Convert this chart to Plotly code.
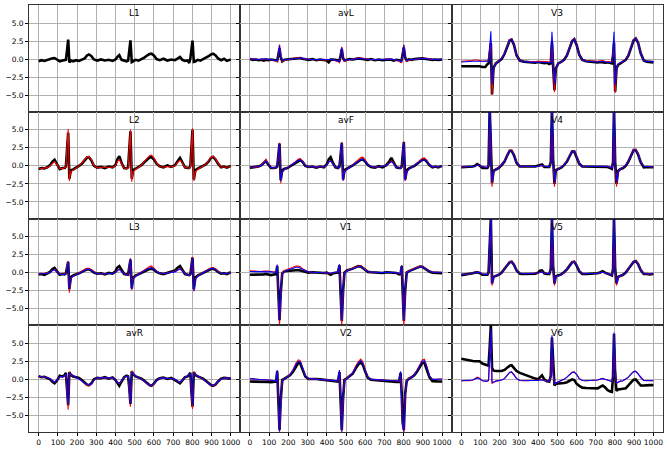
import plotly.graph_objects as go
from plotly.subplots import make_subplots

# shared sample positions (breakpoints)
X = [0, 15, 30, 45, 60, 72, 83, 95, 110, 125,
     136, 142, 148, 154, 160, 168, 180, 195, 210, 225,
     240, 252, 262, 274, 288, 305, 325, 345, 365, 385,
     400, 410, 420, 432, 445, 458, 466, 472, 478, 485,
     492, 505, 520, 535, 550, 565, 577, 588, 600, 614,
     630, 650, 670, 690, 710, 725, 736, 748, 762, 776,
     784, 790, 795, 801, 808, 816, 828, 842, 856, 870,
     885, 897, 908, 920, 934, 950, 965, 980, 1000]

X_TICKS = [0, 100, 200, 300, 400, 500, 600, 700, 800, 900, 1000]
Y_TICKS = [-5, -2.5, 0, 2.5, 5]
Y_TICK_TEXT = ["\u22125.0", "\u22122.5", "0.0", "2.5", "5.0"]

# ---------------- L1 ----------------
L1_black = [-0.3, -0.15, -0.25, -0.1, -0.05, 0.1, 0.15, -0.05, -0.3, -0.2,
            -0.2, -0.1, 1.2, 2.7, -0.45, -0.2, -0.3, -0.15, -0.25, -0.1,
            0.1, 0.5, 0.65, 0.45, -0.05, -0.2, -0.05, -0.2, -0.1, -0.25,
            -0.05, 0.3, 0.55, -0.1, -0.15, -0.3, -0.2, 0.9, 2.6, -0.4,
            -0.3, -0.1, -0.2, -0.05, 0.2, 0.5, 0.7, 0.75, 0.5, 0.0,
            -0.15, 0.05, -0.2, -0.05, -0.15, 0.1, 0.3, -0.1, -0.25, -0.2,
            -0.55, 0.1, 1.3, 2.55, -0.4, -0.35, -0.1, -0.2, 0.0, 0.15,
            0.4, 0.65, 0.75, 0.55, 0.1, -0.15, 0.05, -0.25, -0.05]

# ---------------- L2 ----------------
L2_black = [-0.45, -0.3, -0.35, -0.2, 0.1, 0.6, 0.85, 0.3, -0.45, -0.3,
            -0.3, -0.1, 2.5, 4.6, -1.8, -0.6, -0.5, -0.3, 0.0, 0.3,
            0.8, 1.15, 1.2, 0.8, 0.0, -0.25, -0.15, -0.3, -0.1, -0.2,
            0.1, 0.9, 1.35, 0.4, -0.3, -0.35, -0.2, 2.0, 4.8, -1.8,
            -0.6, -0.4, -0.2, 0.1, 0.5, 0.9, 1.15, 1.2, 0.9, 0.3,
            -0.05, -0.2, 0.05, -0.15, 0.1, 0.7, 1.1, 0.5, -0.2, -0.3,
            -0.3, 0.0, 2.5, 5.0, -1.9, -0.6, -0.4, -0.2, 0.0, 0.2,
            0.6, 1.1, 1.25, 0.9, 0.3, -0.2, -0.1, -0.25, 0.0]
L2_red = [-0.4, -0.35, -0.3, -0.25, 0.0, 0.4, 0.6, 0.2, -0.4, -0.35,
          -0.3, -0.2, 2.8, 5.1, -2.1, -0.8, -0.6, -0.35, 0.0, 0.4,
          0.9, 1.25, 1.3, 0.9, 0.05, -0.3, -0.2, -0.25, -0.2, -0.2,
          0.0, 0.6, 0.9, 0.3, -0.3, -0.35, -0.3, 2.5, 5.0, -2.2,
          -0.8, -0.5, -0.25, 0.1, 0.6, 1.1, 1.4, 1.5, 1.1, 0.4,
          -0.1, -0.2, -0.1, -0.15, 0.0, 0.5, 0.8, 0.4, -0.2, -0.3,
          -0.35, -0.1, 2.8, 5.2, -2.1, -0.8, -0.5, -0.25, -0.05, 0.2,
          0.7, 1.2, 1.35, 1.0, 0.35, -0.15, -0.15, -0.2, -0.05]

# ---------------- L3 ----------------
L3_black = [-0.25, -0.2, -0.3, -0.15, 0.1, 0.5, 0.65, 0.2, -0.3, -0.2,
            -0.25, -0.1, 0.8, 1.5, -2.3, -0.6, -0.4, -0.3, -0.1, 0.1,
            0.3, 0.45, 0.45, 0.3, 0.0, -0.15, -0.1, -0.25, -0.05, -0.15,
            0.2, 0.7, 0.9, 0.3, -0.2, -0.25, -0.3, 0.8, 1.8, -2.2,
            -0.7, -0.4, -0.2, 0.0, 0.2, 0.4, 0.5, 0.55, 0.4, 0.1,
            -0.1, -0.2, 0.0, 0.1, 0.3, 0.7, 0.9, 0.4, -0.2, -0.3,
            -0.35, -0.2, 1.0, 2.1, -2.3, -0.7, -0.4, -0.2, 0.0, 0.2,
            0.4, 0.5, 0.55, 0.4, 0.1, -0.15, -0.1, -0.2, 0.05]
L3_red = [-0.2, -0.15, -0.2, -0.15, 0.0, 0.3, 0.45, 0.15, -0.25, -0.2,
          -0.25, -0.2, 0.9, 1.6, -2.8, -0.8, -0.5, -0.3, -0.05, 0.2,
          0.45, 0.6, 0.6, 0.4, 0.05, -0.15, -0.15, -0.2, -0.1, -0.15,
          0.0, 0.35, 0.5, 0.2, -0.2, -0.25, -0.35, 1.0, 2.0, -2.4,
          -0.8, -0.45, -0.2, 0.1, 0.35, 0.65, 0.85, 0.9, 0.65, 0.2,
          -0.05, -0.15, -0.05, 0.0, 0.15, 0.4, 0.55, 0.3, -0.15, -0.3,
          -0.4, -0.25, 1.1, 2.2, -2.6, -0.85, -0.45, -0.2, 0.0, 0.25,
          0.5, 0.65, 0.7, 0.5, 0.15, -0.1, -0.1, -0.15, 0.0]
L3_blue = [-0.2, -0.2, -0.2, -0.1, 0.0, 0.3, 0.4, 0.1, -0.25, -0.25,
           -0.3, -0.2, 0.8, 1.5, -2.3, -0.8, -0.5, -0.3, -0.05, 0.15,
           0.35, 0.45, 0.45, 0.35, 0.05, -0.15, -0.15, -0.2, -0.1, -0.15,
           0.0, 0.3, 0.45, 0.15, -0.2, -0.3, -0.35, 0.9, 1.9, -2.3,
           -0.9, -0.5, -0.25, 0.05, 0.3, 0.5, 0.6, 0.65, 0.5, 0.15,
           -0.05, -0.15, -0.05, 0.0, 0.1, 0.35, 0.5, 0.25, -0.15, -0.3,
           -0.4, -0.3, 1.0, 2.0, -2.5, -0.9, -0.5, -0.25, 0.0, 0.2,
           0.4, 0.55, 0.6, 0.45, 0.1, -0.1, -0.1, -0.15, 0.0]

# ---------------- avR ----------------
avR_black = [0.45, 0.3, 0.35, 0.2, 0.0, -0.35, -0.55, -0.2, 0.5, 0.4,
             0.6, 0.9, -1.5, -3.6, 1.0, 0.6, 0.4, 0.3, 0.2, -0.1,
             -0.5, -0.75, -0.8, -0.6, 0.0, 0.2, 0.15, 0.3, 0.1, 0.25,
             -0.1, -0.6, -0.9, -0.3, 0.3, 0.5, 0.4, -1.2, -3.4, 1.1,
             0.7, 0.4, 0.3, 0.1, -0.2, -0.55, -0.8, -0.9, -0.6, -0.1,
             0.15, 0.25, 0.05, 0.2, -0.05, -0.35, -0.55, -0.1, 0.3, 0.4,
             0.7, 0.9, -1.5, -3.8, 1.0, 0.6, 0.4, 0.3, 0.1, -0.2,
             -0.55, -0.8, -0.9, -0.75, -0.3, 0.1, 0.2, 0.15, 0.1]
avR_red = [0.4, 0.35, 0.3, 0.25, 0.05, -0.25, -0.4, -0.1, 0.4, 0.35,
           0.5, 0.7, -1.8, -4.2, 1.0, 0.7, 0.5, 0.3, 0.1, -0.2,
           -0.6, -0.85, -0.9, -0.7, -0.1, 0.2, 0.2, 0.25, 0.15, 0.2,
           0.0, -0.4, -0.6, -0.2, 0.3, 0.45, 0.4, -1.5, -3.8, 1.2,
           0.8, 0.45, 0.25, 0.05, -0.3, -0.6, -0.85, -0.9, -0.65, -0.15,
           0.1, 0.2, 0.1, 0.15, 0.0, -0.25, -0.4, -0.1, 0.3, 0.45,
           0.7, 0.8, -1.8, -4.1, 1.05, 0.7, 0.45, 0.3, 0.05, -0.25,
           -0.6, -0.85, -0.9, -0.75, -0.3, 0.05, 0.15, 0.2, 0.1]
avR_blue = [0.4, 0.35, 0.3, 0.25, 0.05, -0.25, -0.4, -0.1, 0.4, 0.35,
            0.5, 0.7, -1.4, -3.5, 0.9, 0.7, 0.5, 0.3, 0.1, -0.2,
            -0.55, -0.75, -0.8, -0.65, -0.1, 0.2, 0.2, 0.25, 0.15, 0.2,
            0.0, -0.4, -0.55, -0.2, 0.3, 0.45, 0.4, -1.2, -3.4, 1.0,
            0.8, 0.45, 0.25, 0.05, -0.25, -0.55, -0.8, -0.85, -0.6, -0.15,
            0.1, 0.2, 0.1, 0.15, 0.0, -0.25, -0.4, -0.1, 0.3, 0.45,
            0.7, 0.8, -1.4, -3.6, 0.9, 0.7, 0.45, 0.3, 0.05, -0.25,
            -0.55, -0.8, -0.85, -0.7, -0.3, 0.05, 0.15, 0.2, 0.1]

# ---------------- avL ----------------
avL_black = [0.0, -0.1, -0.05, -0.15, -0.1, -0.2, -0.1, -0.15, -0.05, -0.1,
             -0.1, -0.2, 0.6, 1.5, 0.3, -0.3, -0.1, -0.05, 0.0, 0.05,
             0.1, 0.15, 0.15, 0.05, -0.05, -0.1, 0.0, -0.15, -0.05, -0.1,
             -0.2, -0.45, -0.1, -0.05, -0.1, -0.15, -0.2, 0.5, 1.4, 0.1,
             -0.2, -0.1, 0.0, -0.05, 0.05, 0.1, 0.05, 0.0, -0.05, -0.1,
             0.0, -0.15, -0.05, -0.15, -0.1, -0.05, -0.1, -0.2, -0.1, -0.15,
             -0.3, -0.1, 0.8, 1.6, 0.2, -0.2, -0.05, -0.1, 0.0, 0.05,
             0.05, 0.1, 0.05, 0.0, -0.05, -0.1, -0.05, -0.1, -0.05]
avL_red = [0.05, 0.0, -0.05, -0.1, -0.05, 0.0, 0.05, -0.05, -0.1, -0.15,
           -0.3, -0.4, 0.7, 2.0, 0.5, -0.3, -0.15, -0.1, 0.0, 0.1,
           0.15, 0.2, 0.2, 0.1, 0.0, -0.05, -0.05, -0.1, -0.05, -0.1,
           -0.15, -0.05, 0.0, -0.1, -0.2, -0.35, -0.5, 0.5, 1.7, 0.3,
           -0.3, -0.15, -0.05, 0.0, 0.1, 0.15, 0.15, 0.1, 0.0, -0.05,
           -0.05, -0.1, -0.05, -0.1, -0.05, 0.0, 0.0, -0.05, -0.15, -0.3,
           -0.45, -0.5, 0.8, 2.0, 0.4, -0.3, -0.15, -0.1, 0.0, 0.1,
           0.15, 0.15, 0.15, 0.1, 0.0, -0.05, -0.05, -0.05, 0.0]
avL_blue = [0.05, 0.0, 0.0, -0.05, 0.0, 0.05, 0.05, 0.0, -0.05, -0.1,
            -0.2, -0.25, 0.7, 1.9, 0.4, -0.2, -0.1, -0.05, 0.0, 0.05,
            0.1, 0.15, 0.15, 0.1, 0.0, -0.05, -0.05, -0.1, -0.05, -0.05,
            -0.1, -0.05, 0.0, -0.05, -0.15, -0.25, -0.35, 0.5, 1.6, 0.3,
            -0.2, -0.1, -0.05, 0.0, 0.05, 0.1, 0.1, 0.05, 0.0, -0.05,
            -0.05, -0.1, -0.05, -0.1, -0.05, 0.0, 0.0, -0.05, -0.1, -0.2,
            -0.3, -0.35, 0.8, 1.9, 0.4, -0.2, -0.1, -0.05, 0.0, 0.05,
            0.1, 0.1, 0.1, 0.05, 0.0, -0.05, -0.05, -0.05, 0.0]

# ---------------- avF ----------------
avF_black = [-0.25, -0.2, -0.25, -0.1, 0.1, 0.5, 0.7, 0.2, -0.3, -0.3,
             -0.25, -0.1, 1.5, 3.1, -2.0, -0.6, -0.4, -0.3, -0.05, 0.2,
             0.55, 0.75, 0.8, 0.55, 0.0, -0.15, -0.1, -0.25, -0.1, -0.2,
             0.2, 0.9, 1.2, 0.4, -0.2, -0.3, -0.1, 1.5, 3.2, -1.9,
             -0.6, -0.4, -0.2, 0.05, 0.35, 0.7, 0.85, 0.9, 0.6, 0.1,
             -0.15, -0.25, -0.05, -0.2, 0.1, 0.6, 1.1, 0.5, -0.2, -0.3,
             -0.3, -0.1, 1.6, 3.3, -1.9, -0.6, -0.35, -0.2, 0.0, 0.3,
             0.6, 0.85, 0.9, 0.6, 0.1, -0.2, -0.1, -0.2, 0.0]
avF_red = [-0.2, -0.2, -0.2, -0.15, 0.1, 0.6, 0.9, 0.3, -0.25, -0.3,
           -0.3, -0.2, 1.6, 3.2, -2.4, -0.8, -0.5, -0.3, 0.0, 0.3,
           0.7, 0.95, 1.0, 0.7, 0.05, -0.15, -0.1, -0.2, -0.1, -0.15,
           0.1, 0.55, 0.75, 0.3, -0.2, -0.3, -0.25, 1.6, 3.3, -2.1,
           -0.8, -0.45, -0.2, 0.1, 0.5, 0.9, 1.15, 1.2, 0.85, 0.2,
           -0.1, -0.2, -0.1, -0.1, 0.05, 0.4, 0.7, 0.35, -0.15, -0.3,
           -0.35, -0.2, 1.7, 3.4, -2.1, -0.8, -0.45, -0.2, 0.05, 0.35,
           0.75, 1.05, 1.1, 0.8, 0.2, -0.15, -0.1, -0.15, 0.0]
avF_blue = [-0.2, -0.2, -0.2, -0.1, 0.05, 0.45, 0.7, 0.25, -0.25, -0.3,
            -0.3, -0.2, 1.5, 3.1, -2.1, -0.9, -0.5, -0.3, 0.0, 0.25,
            0.6, 0.8, 0.8, 0.6, 0.05, -0.15, -0.1, -0.2, -0.1, -0.15,
            0.1, 0.5, 0.7, 0.25, -0.2, -0.3, -0.25, 1.5, 3.2, -2.0,
            -0.9, -0.5, -0.25, 0.05, 0.4, 0.7, 0.85, 0.9, 0.65, 0.15,
            -0.1, -0.2, -0.1, -0.1, 0.05, 0.35, 0.6, 0.3, -0.15, -0.3,
            -0.35, -0.2, 1.6, 3.3, -2.0, -0.9, -0.45, -0.2, 0.05, 0.3,
            0.6, 0.8, 0.85, 0.65, 0.15, -0.15, -0.1, -0.15, 0.0]

# ---------------- V1 ----------------
V1_black = [-0.3, -0.3, -0.25, -0.35, -0.3, -0.25, -0.2, -0.3, -0.35, -0.25,
            -0.2, 0.9, -3.5, -6.6, -3.0, -0.1, 0.2, 0.25, 0.3, 0.35,
            0.35, 0.35, 0.3, 0.2, 0.1, 0.0, 0.05, 0.0, 0.05, -0.05,
            0.0, -0.2, -0.3, -0.1, -0.05, 0.0, 1.0, -3.0, -6.7, -2.5,
            0.0, 0.3, 0.4, 0.55, 0.75, 0.9, 0.85, 0.6, 0.35, 0.1,
            0.05, 0.0, 0.05, -0.05, 0.05, 0.0, -0.05, 0.0, -0.05, -0.25,
            -0.2, 0.9, -3.0, -6.7, -2.5, 0.0, 0.2, 0.35, 0.5, 0.7,
            0.85, 0.8, 0.6, 0.35, 0.15, 0.0, -0.05, -0.1, -0.1]
V1_red = [0.25, 0.2, 0.25, 0.2, 0.15, 0.2, 0.25, 0.2, 0.15, 0.1,
          0.1, 1.0, -3.8, -7.4, -3.2, 0.0, 0.3, 0.45, 0.65, 0.85,
          0.9, 0.9, 0.8, 0.55, 0.3, 0.1, 0.05, 0.05, 0.0, 0.0,
          0.0, -0.05, -0.1, 0.0, 0.05, 0.1, 1.1, -3.2, -7.4, -2.8,
          0.0, 0.3, 0.45, 0.6, 0.8, 0.95, 1.0, 0.7, 0.4, 0.15,
          0.05, 0.05, 0.0, 0.0, 0.05, 0.05, 0.0, 0.05, 0.0, -0.1,
          -0.1, 1.0, -3.2, -7.4, -2.8, 0.0, 0.25, 0.4, 0.6, 0.8,
          0.9, 0.85, 0.65, 0.4, 0.2, 0.05, 0.05, 0.0, 0.05]
V1_blue = [0.15, 0.15, 0.2, 0.15, 0.1, 0.15, 0.2, 0.15, 0.1, 0.05,
           0.05, 1.1, -3.4, -6.6, -3.0, -0.2, 0.2, 0.35, 0.5, 0.65,
           0.75, 0.75, 0.65, 0.45, 0.25, 0.1, 0.05, 0.05, 0.0, 0.0,
           0.0, -0.05, -0.1, 0.0, 0.05, 0.1, 1.15, -3.0, -6.6, -2.7,
           -0.1, 0.25, 0.4, 0.55, 0.7, 0.85, 0.9, 0.65, 0.35, 0.15,
           0.05, 0.05, 0.0, 0.0, 0.05, 0.05, 0.0, 0.05, 0.0, -0.1,
           -0.1, 1.0, -3.0, -6.6, -2.7, -0.1, 0.2, 0.35, 0.55, 0.7,
           0.8, 0.8, 0.6, 0.4, 0.2, 0.05, 0.05, 0.05, 0.05]

# ---------------- V2 ----------------
V2_black = [-0.3, -0.3, -0.25, -0.3, -0.35, -0.3, -0.3, -0.35, -0.4, -0.4,
            -0.3, 1.1, -3.5, -7.0, -3.0, -0.1, 0.1, 0.3, 0.6, 1.1,
            1.8, 2.3, 2.2, 1.4, 0.4, 0.05, 0.1, 0.05, 0.0, -0.05,
            -0.1, -0.15, -0.15, -0.2, -0.25, -0.3, 1.0, -3.0, -7.0, -2.5,
            -0.05, 0.15, 0.45, 0.8, 1.5, 2.1, 2.35, 2.0, 1.1, 0.2,
            -0.05, -0.1, -0.2, -0.25, -0.3, -0.3, -0.35, -0.3, -0.35, -0.35,
            0.9, -2.0, -6.0, -7.0, -2.0, -0.2, 0.1, 0.3, 0.6, 1.1,
            1.8, 2.3, 2.3, 1.5, 0.3, -0.25, -0.3, -0.3, -0.3]
V2_red = [0.1, 0.05, 0.05, 0.0, 0.0, -0.05, -0.1, -0.1, -0.15, -0.2,
          -0.2, 1.2, -3.8, -7.4, -3.4, -0.2, 0.1, 0.35, 0.75, 1.4,
          2.3, 2.7, 2.6, 1.7, 0.5, 0.1, 0.05, 0.05, 0.0, -0.05,
          -0.05, -0.1, -0.1, -0.15, -0.2, -0.2, 1.2, -3.3, -7.4, -2.8,
          -0.1, 0.15, 0.5, 0.9, 1.8, 2.5, 2.8, 2.4, 1.3, 0.3,
          0.0, -0.05, -0.1, -0.15, -0.15, -0.2, -0.2, -0.2, -0.2, -0.25,
          1.0, -2.2, -6.3, -7.4, -2.3, -0.2, 0.15, 0.35, 0.7, 1.3,
          2.2, 2.7, 2.8, 1.9, 0.5, 0.0, 0.0, 0.05, 0.05]
V2_blue = [0.1, 0.05, 0.05, 0.05, 0.0, -0.05, -0.05, -0.1, -0.15, -0.2,
           -0.2, 1.3, -3.6, -7.2, -3.2, -0.3, 0.05, 0.3, 0.65, 1.25,
           2.1, 2.5, 2.4, 1.6, 0.5, 0.1, 0.05, 0.05, 0.0, -0.05,
           -0.05, -0.1, -0.1, -0.15, -0.2, -0.2, 1.3, -3.1, -7.2, -2.7,
           -0.2, 0.1, 0.45, 0.85, 1.65, 2.3, 2.6, 2.2, 1.2, 0.3,
           0.0, -0.05, -0.1, -0.15, -0.15, -0.2, -0.2, -0.2, -0.2, -0.25,
           1.1, -2.1, -6.1, -7.2, -2.2, -0.3, 0.1, 0.3, 0.65, 1.2,
           2.0, 2.5, 2.6, 1.8, 0.5, 0.0, 0.0, 0.05, 0.05]

# ---------------- V3 ----------------
V3_black = [-1.0, -1.0, -0.95, -1.0, -0.95, -0.9, -0.95, -1.0, -1.1, -1.1,
            -0.7, -0.6, 0.8, 2.2, -4.9, -1.2, -0.6, -0.35, 0.0, 0.7,
            1.8, 2.6, 2.7, 2.0, 0.5, -0.2, -0.35, -0.4, -0.45, -0.5,
            -0.4, -0.45, -0.5, -0.55, -0.5, -0.7, -0.6, 2.4, -1.0, -4.3,
            -1.3, -0.6, -0.4, -0.1, 0.5, 1.5, 2.5, 2.75, 2.0, 0.6,
            -0.1, -0.3, -0.35, -0.5, -0.45, -0.4, -0.45, -0.5, -0.45, -0.5,
            -0.6, 0.5, 2.3, -4.5, -1.3, -0.8, -0.6, -0.4, -0.1, 0.5,
            1.6, 2.6, 2.85, 2.3, 0.8, -0.2, -0.35, -0.4, -0.45]
V3_red = [-0.3, -0.3, -0.25, -0.3, -0.2, -0.1, -0.1, -0.2, -0.3, -0.3,
          -0.3, -0.2, 1.0, 2.6, -4.9, -1.3, -0.6, -0.3, 0.1, 0.8,
          1.9, 2.7, 2.8, 2.0, 0.5, -0.2, -0.3, -0.35, -0.35, -0.35,
          -0.3, -0.3, -0.25, -0.3, -0.35, -0.4, -0.4, 2.8, -0.8, -4.6,
          -1.3, -0.6, -0.4, -0.1, 0.5, 1.6, 2.6, 2.8, 2.0, 0.6,
          -0.1, -0.25, -0.3, -0.3, -0.3, -0.25, -0.2, -0.3, -0.35, -0.35,
          -0.4, 0.6, 2.6, -4.7, -1.4, -0.8, -0.5, -0.3, 0.0, 0.6,
          1.7, 2.7, 2.9, 2.3, 0.8, -0.15, -0.3, -0.3, -0.3]
V3_blue = [-0.4, -0.35, -0.3, -0.35, -0.3, -0.3, -0.3, -0.35, -0.4, -0.4,
           -0.4, -0.3, 1.5, 3.85, -3.5, -1.3, -0.7, -0.35, 0.05, 0.75,
           1.8, 2.6, 2.75, 2.0, 0.5, -0.2, -0.35, -0.4, -0.4, -0.45,
           -0.4, -0.4, -0.4, -0.45, -0.45, -0.5, -0.5, 3.8, -0.5, -3.5,
           -1.3, -0.6, -0.4, -0.1, 0.5, 1.5, 2.5, 2.75, 2.0, 0.6,
           -0.1, -0.3, -0.35, -0.4, -0.4, -0.35, -0.3, -0.4, -0.45, -0.45,
           -0.5, 1.0, 3.8, -3.6, -1.4, -0.8, -0.5, -0.35, -0.05, 0.55,
           1.65, 2.6, 2.85, 2.25, 0.8, -0.2, -0.35, -0.35, -0.35]

# ---------------- V4 ----------------
V4_black = [-0.2, -0.2, -0.15, -0.2, -0.1, 0.0, 0.25, 0.05, -0.3, -0.3,
            -0.3, 0.0, 8.0, 3.0, -2.4, -0.7, -0.5, -0.3, 0.1, 0.6,
            1.5, 2.1, 2.1, 1.5, 0.4, -0.1, -0.1, -0.15, -0.1, -0.1,
            0.0, 0.15, 0.2, -0.15, -0.2, -0.15, 0.5, 8.0, 1.0, -2.5,
            -0.6, -0.45, -0.25, 0.1, 0.6, 1.4, 2.0, 2.0, 1.3, 0.3,
            -0.1, -0.1, -0.15, -0.1, -0.15, -0.1, -0.05, -0.1, -0.15, -0.3,
            -0.4, 0.5, 8.0, 0.5, -2.5, -0.7, -0.45, -0.3, 0.0, 0.6,
            1.5, 2.2, 2.2, 1.6, 0.5, -0.2, -0.15, -0.2, -0.2]
V4_red = [-0.15, -0.15, -0.15, -0.15, -0.1, -0.05, 0.1, 0.0, -0.15, -0.2,
          -0.2, 0.0, 7.8, 3.0, -2.9, -0.8, -0.5, -0.25, 0.15, 0.7,
          1.6, 2.2, 2.2, 1.6, 0.45, -0.05, -0.05, -0.1, -0.1, -0.1,
          -0.05, 0.0, 0.05, -0.05, -0.1, -0.1, 0.5, 7.8, 1.0, -2.9,
          -0.7, -0.45, -0.2, 0.15, 0.7, 1.5, 2.1, 2.1, 1.4, 0.35,
          -0.05, -0.05, -0.1, -0.1, -0.1, -0.05, 0.0, -0.05, -0.1, -0.2,
          -0.3, 0.5, 7.8, 0.5, -2.9, -0.8, -0.45, -0.25, 0.05, 0.65,
          1.6, 2.3, 2.3, 1.7, 0.55, -0.1, -0.1, -0.15, -0.15]
V4_blue = [-0.15, -0.15, -0.15, -0.15, -0.1, -0.05, 0.1, 0.0, -0.15, -0.2,
           -0.2, 0.2, 8.5, 3.5, -2.3, -0.9, -0.5, -0.25, 0.1, 0.65,
           1.5, 2.1, 2.1, 1.5, 0.4, -0.05, -0.05, -0.1, -0.1, -0.1,
           -0.05, 0.0, 0.05, -0.05, -0.1, -0.1, 0.7, 8.5, 1.5, -2.3,
           -0.8, -0.45, -0.2, 0.1, 0.65, 1.45, 2.0, 2.0, 1.35, 0.35,
           -0.05, -0.05, -0.1, -0.1, -0.1, -0.05, 0.0, -0.05, -0.1, -0.2,
           -0.3, 0.7, 8.5, 1.0, -2.3, -0.9, -0.45, -0.25, 0.05, 0.6,
           1.5, 2.2, 2.2, 1.6, 0.5, -0.1, -0.1, -0.15, -0.15]

# ---------------- V5 ----------------
V5_black = [-0.35, -0.3, -0.3, -0.25, -0.1, 0.0, 0.05, -0.05, -0.3, -0.3,
            -0.3, 0.0, 4.0, 7.6, -1.5, -0.6, -0.45, -0.3, 0.0, 0.5,
            1.1, 1.45, 1.5, 1.1, 0.3, -0.15, -0.2, -0.15, -0.2, -0.15,
            0.0, 0.25, 0.3, -0.1, -0.2, -0.2, 0.5, 7.6, 1.0, -1.5,
            -0.5, -0.4, -0.25, 0.05, 0.45, 1.0, 1.45, 1.5, 1.0, 0.2,
            -0.2, -0.2, -0.15, -0.2, -0.1, 0.05, 0.2, 0.0, -0.2, -0.3,
            -0.4, 0.5, 7.6, 0.5, -1.5, -0.6, -0.45, -0.3, 0.0, 0.5,
            1.1, 1.5, 1.6, 1.2, 0.35, -0.2, -0.2, -0.25, -0.2]
V5_red = [-0.25, -0.25, -0.2, -0.2, -0.1, 0.05, 0.1, 0.0, -0.2, -0.25,
          -0.25, 0.0, 4.0, 7.3, -1.8, -0.7, -0.45, -0.3, 0.05, 0.55,
          1.15, 1.5, 1.55, 1.15, 0.35, -0.1, -0.15, -0.15, -0.15, -0.15,
          -0.05, 0.05, 0.1, -0.05, -0.15, -0.15, 0.5, 7.3, 1.0, -1.8,
          -0.6, -0.45, -0.3, 0.0, 0.45, 1.05, 1.5, 1.55, 1.05, 0.25,
          -0.15, -0.15, -0.15, -0.15, -0.1, 0.0, 0.05, -0.05, -0.15, -0.25,
          -0.35, 0.5, 7.3, 0.5, -1.8, -0.7, -0.45, -0.3, 0.0, 0.55,
          1.15, 1.55, 1.65, 1.25, 0.4, -0.15, -0.15, -0.2, -0.15]
V5_blue = [-0.25, -0.25, -0.2, -0.2, -0.1, 0.05, 0.1, 0.0, -0.2, -0.25,
           -0.25, 0.2, 4.5, 8.0, -1.5, -0.7, -0.45, -0.3, 0.05, 0.5,
           1.1, 1.45, 1.5, 1.1, 0.3, -0.1, -0.15, -0.15, -0.15, -0.15,
           -0.05, 0.05, 0.1, -0.05, -0.15, -0.15, 0.7, 8.0, 1.5, -1.5,
           -0.6, -0.45, -0.3, 0.0, 0.45, 1.0, 1.45, 1.5, 1.0, 0.25,
           -0.15, -0.15, -0.15, -0.15, -0.1, 0.0, 0.05, -0.05, -0.15, -0.25,
           -0.35, 0.7, 8.0, 1.0, -1.5, -0.7, -0.45, -0.3, 0.0, 0.5,
           1.1, 1.5, 1.6, 1.2, 0.35, -0.15, -0.15, -0.2, -0.15]

# ---------------- V6 ----------------
V6_black = [2.85, 2.8, 2.7, 2.65, 2.55, 2.5, 2.5, 2.5, 2.2, 2.1,
            2.0, 1.9, 4.5, 7.6, 1.6, 1.2, 1.15, 1.15, 1.15, 1.3,
            1.6, 1.9, 1.95, 1.6, 1.15, 0.9, 0.7, 0.4, 0.3, 0.1,
            0.0, 0.3, 0.55, 0.0, -0.25, -0.3, 0.5, 5.8, 1.5, -0.85,
            -0.6, -0.6, -0.55, -0.5, -0.4, -0.2, 0.0, -0.1, -0.6, -0.9,
            -1.15, -1.2, -1.25, -1.25, -1.25, -1.0, -0.85, -1.1, -1.5, -1.7,
            -1.75, 0.5, 6.3, 0.5, -1.6, -1.4, -1.4, -1.3, -1.25, -0.9,
            -0.4, -0.05, 0.0, -0.4, -0.85, -0.85, -0.8, -0.8, -0.8]
V6_red = [-0.2, -0.2, -0.25, -0.2, -0.1, 0.1, 0.3, 0.15, -0.2, -0.25,
          -0.25, -0.2, 3.0, 6.5, -0.6, -0.4, -0.25, -0.2, -0.1, 0.1,
          0.6, 1.0, 1.05, 0.7, 0.1, -0.15, -0.2, -0.2, -0.15, -0.2,
          -0.15, -0.1, -0.05, -0.2, -0.25, -0.3, 0.3, 5.8, 1.0, -0.7,
          -0.5, -0.35, -0.2, 0.0, 0.3, 0.7, 1.0, 1.05, 0.7, 0.1,
          -0.15, -0.2, -0.2, -0.15, -0.1, 0.05, 0.15, 0.0, -0.15, -0.25,
          -0.3, 0.5, 6.2, 1.5, -0.6, -0.4, -0.25, -0.2, 0.0, 0.3,
          0.8, 1.1, 1.15, 0.8, 0.2, -0.15, -0.2, -0.2, -0.2]
V6_blue = [-0.2, -0.2, -0.2, -0.2, -0.1, 0.05, 0.2, 0.1, -0.2, -0.25,
           -0.25, -0.1, 3.5, 7.0, -0.4, -0.4, -0.25, -0.2, -0.1, 0.1,
           0.55, 0.95, 1.0, 0.65, 0.1, -0.15, -0.2, -0.2, -0.15, -0.2,
           -0.15, -0.1, -0.05, -0.2, -0.25, -0.3, 0.5, 6.1, 1.5, -0.6,
           -0.5, -0.35, -0.2, 0.0, 0.3, 0.7, 0.95, 1.0, 0.7, 0.1,
           -0.15, -0.2, -0.2, -0.15, -0.1, 0.05, 0.1, 0.0, -0.15, -0.25,
           -0.3, 0.7, 6.5, 1.8, -0.5, -0.4, -0.25, -0.2, 0.0, 0.3,
           0.75, 1.05, 1.1, 0.75, 0.2, -0.15, -0.15, -0.2, -0.2]

# (name, row, col, black, red, blue)
LEADS = [
    ("L1", 1, 1, L1_black, None, None),
    ("L2", 2, 1, L2_black, L2_red, None),
    ("L3", 3, 1, L3_black, L3_red, L3_blue),
    ("avR", 4, 1, avR_black, avR_red, avR_blue),
    ("avL", 1, 2, avL_black, avL_red, avL_blue),
    ("avF", 2, 2, avF_black, avF_red, avF_blue),
    ("V1", 3, 2, V1_black, V1_red, V1_blue),
    ("V2", 4, 2, V2_black, V2_red, V2_blue),
    ("V3", 1, 3, V3_black, V3_red, V3_blue),
    ("V4", 2, 3, V4_black, V4_red, V4_blue),
    ("V5", 3, 3, V5_black, V5_red, V5_blue),
    ("V6", 4, 3, V6_black, V6_red, V6_blue),
]

for name, _, _, b, r, u in LEADS:
    for s in (b, r, u):
        if s is not None and len(s) != len(X):
            raise ValueError(f"{name}: length {len(s)} != {len(X)}")

fig = make_subplots(rows=4, cols=3, shared_xaxes=True, shared_yaxes=True,
                    horizontal_spacing=0, vertical_spacing=0)

STYLES = [("black", 2.6), ("red", 1.1), ("blue", 1.1)]
for name, row, col, b, r, u in LEADS:
    for ys, (color, width) in zip((b, r, u), STYLES):
        if ys is None:
            continue
        fig.add_trace(go.Scatter(x=X, y=ys, mode="lines",
                                 line=dict(color=color, width=width),
                                 showlegend=False, hoverinfo="skip"),
                      row=row, col=col)
    idx = (row - 1) * 3 + col
    suffix = "" if idx == 1 else str(idx)
    fig.add_annotation(text=name, xref=f"x{suffix} domain", yref=f"y{suffix} domain",
                       x=0.5, y=1, xanchor="center", yanchor="top", yshift=-1,
                       showarrow=False, font=dict(family="DejaVu Sans", size=9, color="black"))

fig.update_xaxes(range=[-50, 1050], tickvals=X_TICKS, ticks="outside", ticklen=3,
                 tickcolor="black", showgrid=True, gridcolor="#b0b0b0", gridwidth=0.8,
                 showline=True, linecolor="#333333", linewidth=0.7, mirror=True,
                 zeroline=False, automargin=False,
                 tickfont=dict(family="DejaVu Sans", size=7.5, color="black"))
fig.update_yaxes(range=[-7.3, 7.5], tickvals=Y_TICKS, ticktext=Y_TICK_TEXT,
                 ticks="outside", ticklen=3, tickcolor="black",
                 showgrid=True, gridcolor="#b0b0b0", gridwidth=0.8,
                 showline=True, linecolor="#333333", linewidth=0.7, mirror=True,
                 zeroline=False, automargin=False,
                 tickfont=dict(family="DejaVu Sans", size=7.5, color="black"))

fig.update_layout(width=668, height=451, margin=dict(l=29, r=5, t=5, b=19, autoexpand=False),
                  paper_bgcolor="white", plot_bgcolor="white",
                  font=dict(family="DejaVu Sans"))

fig.write_html("out.html", config={"displayModeBar": False},
               post_script="document.body.style.margin='0px';")
